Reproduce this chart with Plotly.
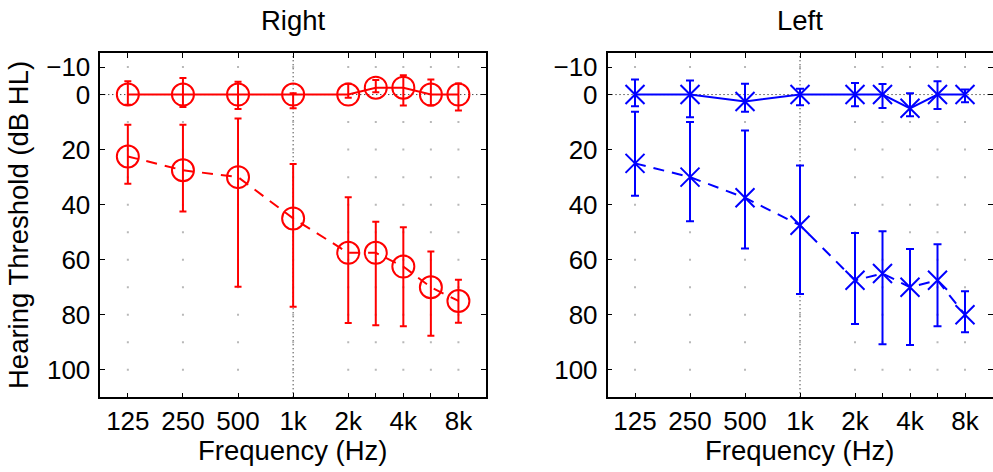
import plotly.graph_objects as go

# Audiometric frequencies on an octave index axis (3k and 6k sit half-way)
freq_pos = [1, 2, 3, 4, 5, 5.5, 6, 6.5, 7]
freq_text = ["125", "250", "500", "1k", "2k", "", "4k", "", "8k"]
db_ticks = [-10, 0, 20, 40, 60, 80, 100]
grid_levels = [-10, 10, 20, 30, 40, 50, 60, 70, 80, 90, 100]

# Right ear: normal-hearing group (solid) and hearing-loss group (dashed)
right_norm_mean = [0, 0, 0, 0, 0, -2.5, -2.5, 0, 0]
right_norm_low = [-4.8, -6.0, -4.7, -0.5, -3.9, -5.3, -7.0, -5.5, -4.0]
right_norm_high = [3.7, 4.5, 5.2, 5.0, 1.2, -0.8, 4.0, 4.0, 5.8]

right_loss_mean = [22.5, 27.5, 30, 45, 57.5, 57.5, 62.5, 70, 75]
right_loss_low = [11.0, 11.0, 8.7, 25.2, 37.3, 46.2, 48.2, 57.0, 67.3]
right_loss_high = [32.4, 42.5, 69.8, 77.1, 83.0, 83.8, 84.2, 87.6, 82.9]

# Left ear
left_norm_mean = [0, 0, 2.5, 0, 0, 0, 5, 0, 0]
left_norm_low = [-5.45, -5.1, -3.9, -2.1, -4.2, -3.8, -0.5, -4.85, -1.8]
left_norm_high = [4.2, 8.2, 6.2, 3.9, 4.2, 4.85, 7.9, 5.2, 2.8]

left_loss_mean = [25, 30, 37.5, 47.5, 67.5, 65, 70, 67.5, 80]
left_loss_low = [6.2, 10.0, 13.1, 25.8, 50.3, 49.7, 56.1, 54.4, 71.5]
left_loss_high = [36.8, 46.0, 55.9, 72.5, 83.4, 90.7, 91.0, 84.2, 86.4]

RED = "#ff0000"
BLUE = "#0000ff"
FONT = "Liberation Sans, Arial, sans-serif"
TICK_SIZE = 26
LABEL_SIZE = 27.5


def err(mean, low, high, color, cap):
    return dict(
        type="data", symmetric=False,
        array=[h - m for m, h in zip(mean, high)],
        arrayminus=[m - l for m, l in zip(mean, low)],
        color=color, thickness=2, width=cap,
    )


fig = go.Figure()

# faint dotted grid: small dots at each frequency / 10 dB crossing
for xa, ya in (("x", "y"), ("x2", "y2")):
    gx, gy = [], []
    for p in freq_pos:
        for lv in grid_levels:
            gx.append(p)
            gy.append(lv)
    fig.add_trace(go.Scatter(
        x=gx, y=gy, xaxis=xa, yaxis=ya, mode="markers",
        marker=dict(symbol="square", size=2, color="#b8b8b8", line=dict(width=0)),
        hoverinfo="skip", showlegend=False,
    ))


def series(mean, low, high, color, dash, symbol, size, xa, ya, cap):
    fig.add_trace(go.Scatter(
        x=freq_pos, y=mean, xaxis=xa, yaxis=ya, mode="lines+markers",
        line=dict(color=color, width=2, dash=dash),
        marker=dict(symbol=symbol, size=size, color=color,
                    line=dict(color=color, width=2)),
        error_y=err(mean, low, high, color, cap),
        showlegend=False,
    ))


series(right_norm_mean, right_norm_low, right_norm_high, RED, "solid",
       "circle-open", 22, "x", "y", 3.5)
series(right_loss_mean, right_loss_low, right_loss_high, RED, "11px,8px",
       "circle-open", 22, "x", "y", 3.5)
series(left_norm_mean, left_norm_low, left_norm_high, BLUE, "solid",
       "x-thin-open", 19, "x2", "y2", 4)
series(left_loss_mean, left_loss_low, left_loss_high, BLUE, "11px,8px",
       "x-thin-open", 19, "x2", "y2", 4)

# dotted reference lines at 0 dB HL and 1 kHz
for xa, ya in (("x", "y"), ("x2", "y2")):
    fig.add_shape(type="line", xref=xa, yref=ya + " domain", x0=4, x1=4, y0=0, y1=1,
                  line=dict(color="#000000", width=1, dash="1px,3px"), layer="below")
    fig.add_shape(type="line", xref=xa + " domain", yref=ya, x0=0, x1=1, y0=0, y1=0,
                  line=dict(color="#000000", width=1, dash="1px,3px"), layer="below")

xaxis_common = dict(
    range=[0.5, 7.5], tickmode="array", tickvals=freq_pos, ticktext=freq_text,
    ticks="inside", ticklen=5, tickwidth=1, tickcolor="#000000",
    showline=True, linecolor="#000000", linewidth=1.5, mirror="allticks",
    showgrid=False, zeroline=False,
    tickfont=dict(family=FONT, size=TICK_SIZE, color="#000000"),
    ticklabelstandoff=0,
)
yaxis_common = dict(
    range=[110, -15], tickmode="array", tickvals=db_ticks,
    ticktext=["\u221210", "0", "20", "40", "60", "80", "100"],
    ticks="inside", ticklen=5, tickwidth=1, tickcolor="#000000",
    showline=True, linecolor="#000000", linewidth=1.5, mirror="allticks",
    showgrid=False, zeroline=False,
    tickfont=dict(family=FONT, size=TICK_SIZE, color="#000000"),
    ticklabelstandoff=3,
)

fig.update_layout(
    width=993, height=472,
    margin=dict(l=0, r=0, t=0, b=0),
    paper_bgcolor="#ffffff", plot_bgcolor="#ffffff",
    xaxis=dict(domain=[0.101, 0.4894], anchor="y", **xaxis_common),
    yaxis=dict(domain=[0.1583, 0.8871], anchor="x", **yaxis_common),
    xaxis2=dict(domain=[0.6118, 0.9995], anchor="y2", **xaxis_common),
    yaxis2=dict(domain=[0.1583, 0.8871], anchor="x2", **yaxis_common),
    font=dict(family=FONT, size=TICK_SIZE, color="#000000"),
)

label_font = dict(family=FONT, size=LABEL_SIZE, color="#000000")
annotations = [
    dict(text="Right", x=(0.101 + 0.4894) / 2, y=1 - 20 / 472),
    dict(text="Left", x=(0.6118 + 0.9995) / 2, y=1 - 20 / 472),
    dict(text="Frequency (Hz)", x=(0.101 + 0.4894) / 2, y=1 - 450 / 472),
    dict(text="Frequency (Hz)", x=(0.6118 + 0.9995) / 2, y=1 - 450 / 472),
    dict(text="Hearing Threshold (dB HL)", x=19 / 993, y=1 - 225 / 472, textangle=-90),
]
for a in annotations:
    fig.add_annotation(xref="paper", yref="paper", showarrow=False,
                       xanchor="center", yanchor="middle", font=label_font, **a)

fig.write_html("out.html")
